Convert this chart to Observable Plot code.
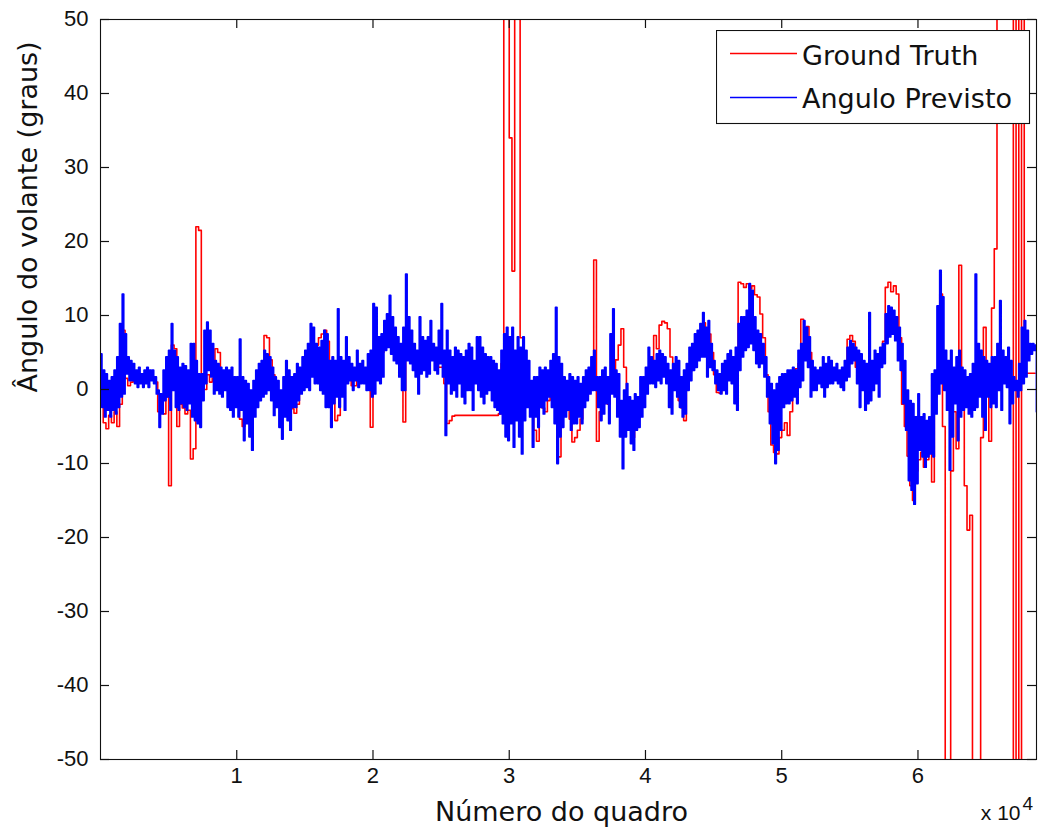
<!DOCTYPE html>
<html>
<head>
<meta charset="utf-8">
<script src="https://cdn.jsdelivr.net/npm/d3@7"></script>
<script src="https://cdn.jsdelivr.net/npm/@observablehq/plot@0.6"></script>
<style>
  html, body { margin: 0; padding: 0; background: #fff; }
  #chart { position: relative; width: 1040px; height: 834px; }
  #legend { position: absolute; left: 716px; top: 30px; }
</style>
</head>
<body>
<div id="chart"></div>
<script>
// Traces are stored as one value per block of frames.
const sampleStep = 200;

const xTicks = [10000, 20000, 30000, 40000, 50000, 60000];
const xTickLabels = ["1", "2", "3", "4", "5", "6"];
const yTicks = [-50, -40, -30, -20, -10, 0, 10, 20, 30, 40, 50];
const xDomain = [0, 68700];
const yDomain = [-50, 50];

const seriesNames = ["Ground Truth", "Angulo Previsto"];
const seriesColors = ["#ff0000", "#0000ff"];

// Ground-truth steering angle (degrees), one value per block
const groundTruth = [
  -1, -4.5, -5.3, -3.5, -4.5, -3, -5, -2, 8, 1.5,
  0.5, 1, 1.5, 1.5, 2, 1.5, 1.5, 2, 2, 1.5,
  1, -3, -2.5, -3.3, -1, -13, 6, 5.5, -5, -2,
  -2.5, -3.3, -2.8, -9.4, -8, 22, 21.5, 1, 0, 2,
  1, 1.5, 5.5, 5, 2, 1, 2, 0, -1, -2,
  -1, -4, -5, -3, -4.5, -2, -1, 0, 1, 2.5,
  7.3, 7, 4, 2, 0, -2, -3, -1, 0, -2,
  -2.6, -3.2, -2, 0, 1.5, 2, 3, 4, 5, 6,
  7, 7.5, 8, 6.5, 3, 1, -4.2, -3.5, 0, 1,
  2, 1.5, 0.5, 0.5, 1.5, 2, 2, 1.5, 0, -5.1,
  2, 6.8, 1.5, 5, 7, 7.3, 6, 5.5, 5, 6,
  4, -4.4, 5, 5, 4.5, 5, 4, 3, 4, 3.5,
  3, 4.5, 5, 4.5, 3, 3, 0.8, -4.6, -4.2, -3.6,
  -3.5, -3.5, -3.5, -3.5, -3.5, -3.5, -3.5, -3.5, -3.5, -3.5,
  -3.5, -3.5, -3.5, -3.5, -3.5, -3.5, -3.3, 3.5, 58, 60,
  34, 16, 60, 60, 7, 2, 2.6, 0, -1, -5.5,
  -7, -2, -2.5, -3, -1.5, 0, -2, -3, -9.1, -2,
  -3, -2, -4, -7.1, -6.5, -5.5, -4, -1.5, -1, 0,
  1.5, 17.5, -7, -3, -2, -1, -2, 1, 2, 4,
  6, 8.2, 3, -2, -5, -6.5, -5.5, -3.5, -2, 0,
  1, 3, 4, 7.3, 5.5, 8.7, 9.2, 9, 8.2, 4.4,
  2, 0, -1.5, -2.5, -4.2, 0, 2.5, 4, 5, 6.5,
  8, 9, 6, 7.5, 5, 2, -0.4, -0.5, 0.5, 1,
  2, 3, 1, 0, 14.5, 14.3, 13.8, 14.3, 13.6, 14,
  12.8, 12.5, 10.2, 7, 2, -3, -7.5, -8.5, -8.7, -6.5,
  -5.5, -4.5, -6.2, -3, 0, 2.8, 3.5, 9.5, 6, 8.5,
  5, 2, 1.5, 1, 1.5, 1, 2, 2, 2, 2,
  2, 1.5, 1.5, 2.5, 6.8, 7.3, 6.5, 3, 1, 1,
  1.5, 0, 1, 2, 3, 4.5, 5.3, 6.5, 13.8, 14.5,
  13.2, 14, 12.9, 7, -2, -5, -9, -13, -15, -11,
  -9.5, -8.5, -10.5, -9.5, -8.5, -12.5, -1, 2, 12.9, -5,
  -62, -62, -11, -3, -8, 16.8, -2, -13, -19, -17,
  -62, -62, -62, -6.5, 8.4, 0, -7, 11, 19, 62,
  62, 62, 62, 62, 62, -62, 62, -62, 62, 2.2,
  2.2, 2.2, 2.2, 2.2
];

// Predicted angle: upper and lower excursion within each block
const predictedHigh = [
  4.8, 2.6, 2.1, 1.2, 1.7, 2.6, 4.4, 8.9, 12.9, 7.5,
  4.4, 3.9, 3.5, 2.6, 3.0, 2.1, 2.6, 3.0, 2.6, 2.6,
  1.7, -0.1, -0.6, 2.6, 4.4, 5.3, 8.9, 5.3, 4.4, 3.0,
  3.5, 3.2, 2.6, 6.2, 6.2, 3.9, 2.1, 2.1, 8.0, 9.1,
  8.0, 6.2, 3.9, 3.5, 3.0, 2.6, 3.0, 2.6, 3.0, 1.7,
  1.7, 6.8, 1.7, 1.2, 0.8, -0.1, 1.2, 2.6, 3.5, 3.9,
  5.3, 4.8, 4.4, 3.0, 1.7, 1.2, -0.1, 1.7, 3.9, 2.6,
  1.7, 2.1, 3.5, 3.0, 4.4, 5.3, 6.2, 8.9, 8.4, 6.2,
  5.7, 6.6, 8.0, 7.5, 3.9, 4.4, 3.9, 10.9, 4.4, 3.9,
  7.1, 4.4, 3.5, 3.0, 5.3, 3.5, 3.9, 3.0, 4.8, 5.3,
  11.6, 11.1, 7.1, 7.5, 9.3, 10.2, 12.7, 9.8, 8.4, 7.1,
  6.2, 8.4, 15.6, 9.8, 8.0, 6.2, 5.3, 9.8, 7.1, 6.6,
  7.1, 9.3, 6.2, 5.7, 8.0, 11.6, 5.3, 8.0, 5.3, 4.4,
  5.7, 5.3, 4.8, 4.4, 5.3, 6.2, 5.7, 3.9, 7.1, 7.1,
  5.7, 4.8, 4.4, 4.4, 3.9, 3.5, 2.6, 5.3, 7.5, 8.4,
  7.1, 8.4, 5.3, 7.1, 5.7, 7.1, 5.3, 3.9, 1.2, 1.7,
  1.7, 3.0, 2.6, 3.0, 2.6, 3.9, 4.8, 11.1, 4.4, 3.5,
  1.7, 1.2, 2.1, 1.7, 1.2, 1.7, 0.8, 1.7, 2.6, 3.0,
  4.4, 5.3, 1.7, 1.7, 2.6, 3.0, 1.7, 7.5, 10.9, 2.6,
  2.1, -1.5, -0.1, 0.8, -1.0, -1.5, -0.6, -1.0, 1.7, 1.7,
  3.0, 5.7, 4.4, 3.9, 4.8, 5.3, 4.8, 4.4, 3.5, 2.6,
  3.5, 4.4, 3.9, 1.7, 2.6, 3.5, 5.7, 6.2, 7.5, 8.0,
  8.9, 10.4, 8.4, 9.3, 6.2, 3.9, 2.6, 2.1, 3.5, 3.9,
  4.8, 5.3, 4.4, 5.7, 8.9, 9.8, 9.8, 10.7, 14.3, 13.4,
  9.8, 8.0, 7.5, 6.2, 4.4, 1.7, 0.8, -0.1, 0.8, 1.7,
  2.1, 2.1, 2.6, 2.6, 3.0, 2.6, 5.3, 6.2, 9.3, 8.4,
  7.1, 3.9, 3.0, 2.6, 3.0, 4.4, 3.5, 4.4, 3.9, 3.0,
  3.5, 2.6, 3.0, 3.9, 5.7, 6.6, 6.2, 5.7, 5.3, 4.8,
  3.9, 3.5, 10.4, 3.9, 5.3, 4.8, 5.7, 6.2, 10.2, 11.3,
  11.1, 10.7, 9.8, 8.4, 6.2, 3.9, -0.1, -1.5, -1.9, -3.7,
  -0.6, -3.7, -3.3, -4.2, -3.7, 2.1, 2.6, 11.3, 16.1, 12.5,
  5.3, 3.9, 5.3, 3.0, 4.4, 5.3, 3.0, 2.6, 1.7, 2.1,
  3.5, 15.6, 6.2, 5.3, 4.4, 3.9, 3.5, 4.4, 4.4, 6.2,
  12.0, 5.3, 4.4, 5.7, 3.9, 1.7, 1.2, 3.5, 8.4, 9.3,
  8.0, 6.2, 6.2, 6.0
];

const predictedLow = [
  -2.4, -3.7, -2.8, -3.7, -2.8, -3.3, -2.4, -1.0, -0.6, 2.1,
  1.2, 1.2, 0.8, 0.3, 0.8, 0.3, 0.8, 0.3, 1.2, 0.8,
  -0.6, -5.1, -3.3, -1.5, -1.0, -2.8, -0.1, -2.4, -2.8, -1.9,
  -2.4, -2.8, -1.9, -3.7, -4.2, -4.6, -5.1, -1.5, 0.8, 2.6,
  1.7, -0.6, -0.1, -0.6, -1.0, -0.1, -2.4, -2.8, -3.7, -2.4,
  -3.7, -2.8, -6.9, -4.6, -6.4, -8.2, -3.7, -2.4, -1.5, -1.0,
  -0.6, -0.1, -1.5, -3.5, -2.4, -5.1, -6.7, -3.7, -4.2, -5.5,
  -2.4, -2.4, -1.5, -0.6, -0.1, 0.3, -0.1, 1.7, 0.8, 0.8,
  -0.1, -0.6, -2.4, -2.4, -5.1, -1.9, -1.0, -2.4, -1.0, -2.8,
  0.8, 1.2, -0.1, 1.2, 0.3, 0.8, 0.8, -0.1, -0.1, -1.0,
  -0.6, 1.2, 0.8, 1.7, 5.3, 5.7, 4.8, 3.9, 3.5, 1.7,
  -0.1, -0.1, 3.9, 3.5, 2.6, 1.7, -0.6, 2.1, 2.6, 1.7,
  2.1, 3.9, 2.6, 2.1, 3.5, 1.7, -6.2, 0.8, -0.6, -0.1,
  -1.0, 0.8, -1.0, -1.9, -0.1, -0.1, -2.8, 0.8, -0.1, -1.0,
  -1.9, -0.6, -0.1, -1.5, -2.4, -2.8, -3.3, -4.6, -6.4, -6.9,
  -4.6, -7.8, -4.2, -6.4, -8.7, -4.2, -2.4, -3.7, -7.8, -3.7,
  -5.1, -2.4, -3.3, -1.5, -1.0, -2.4, -4.6, -10.0, -6.4, -5.1,
  -3.7, -2.8, -5.5, -4.6, -4.6, -3.7, -4.6, -2.4, -1.5, -0.6,
  -0.1, -0.1, -2.4, -4.2, -3.3, -1.9, -4.6, -0.6, -1.0, -3.7,
  -6.4, -10.7, -6.4, -5.5, -7.3, -8.2, -5.5, -5.1, -3.7, -2.4,
  -0.6, 0.8, 0.8, 0.3, 1.2, 0.8, 1.7, 0.8, -2.4, -3.3,
  -0.1, -1.0, -2.4, -3.7, -3.3, -0.1, 1.2, 2.6, 3.0, 3.9,
  4.4, 4.4, 1.7, 3.0, 2.6, 0.8, -0.1, -0.6, -0.1, -0.6,
  1.2, 0.8, -1.9, -2.8, 2.6, 4.4, 5.3, 5.7, 6.2, 5.3,
  3.5, 3.0, 3.5, 1.7, -1.0, -4.6, -7.3, -10.0, -8.2, -5.5,
  -2.4, -1.9, -1.9, -1.5, -1.0, -1.9, 0.3, 1.2, 3.9, 3.0,
  -1.0, -0.1, -0.1, 0.8, 0.3, -1.0, 0.3, 0.8, 0.8, 1.2,
  0.8, 0.3, -0.1, 1.2, 1.7, 3.5, 3.9, 0.8, -2.4, -0.1,
  -2.8, -1.9, -1.5, -0.1, 0.8, -1.0, 3.0, 3.5, 6.2, 7.1,
  7.5, 6.6, 3.9, 2.6, -1.9, -5.5, -12.3, -13.6, -15.5, -12.7,
  -8.2, -9.1, -10.5, -9.1, -8.7, -9.1, -3.3, -0.6, 0.8, -0.1,
  -2.8, -10.9, -6.4, -1.9, -6.9, -3.7, -2.8, -2.4, -3.3, -3.7,
  -2.8, -2.4, -1.0, -3.7, -5.5, -1.0, -2.4, -1.9, -2.4, -0.1,
  -2.8, 0.8, 0.3, -4.6, -1.9, -0.1, -1.0, -0.1, 0.8, 1.7,
  3.9, 4.8, 5.3, -3.0
];

const xTitle = "Número do quadro";
const yTitle = "Ângulo do volante (graus)";
const xMultiplier = "x 10";
const xExponent = "4";

// Tables for the line marks
const truthRows = groundTruth.map((angle, i) => ({frame: i * sampleStep, angle}));
const predictedRows = predictedHigh.flatMap((hi, i) => [
  {frame: i * sampleStep, angle: hi},
  {frame: i * sampleStep + sampleStep / 2, angle: predictedLow[i]}
]);

const tickFont = "Liberation Sans, Arial, sans-serif";
const titleFont = "DejaVu Sans, Verdana, sans-serif";
const ink = "#111";

// Axes box geometry (pixels)
const W = 1040, H = 834;
const margin = {left: 100, right: 4, top: 19, bottom: 75};
const frameW = W - margin.left - margin.right;
const frameH = H - margin.top - margin.bottom;
const tickLen = 9;

const chart = Plot.plot({
  width: W,
  height: H,
  marginLeft: margin.left,
  marginRight: margin.right,
  marginTop: margin.top,
  marginBottom: margin.bottom,
  style: {background: "#fff", color: ink, fontFamily: tickFont},
  x: {domain: xDomain},
  y: {domain: yDomain},
  marks: [
    Plot.line(truthRows, {x: "frame", y: "angle", stroke: seriesColors[0], strokeWidth: 1.6, curve: "step-after", clip: true}),
    Plot.line(predictedRows, {x: "frame", y: "angle", stroke: seriesColors[1], strokeWidth: 1.8, curve: "step-after", clip: true}),
    Plot.frame({stroke: ink, strokeWidth: 1.1}),
    // inward tick marks on all four sides
    Plot.tickX(xTicks, {x: d => d, insetTop: frameH - tickLen, stroke: ink, strokeWidth: 1.2}),
    Plot.tickX(xTicks, {x: d => d, insetBottom: frameH - tickLen, stroke: ink, strokeWidth: 1.2}),
    Plot.tickY(yTicks, {y: d => d, insetRight: frameW - tickLen, stroke: ink, strokeWidth: 1.2}),
    Plot.tickY(yTicks, {y: d => d, insetLeft: frameW - tickLen, stroke: ink, strokeWidth: 1.2}),
    // tick labels
    Plot.axisX(xTicks, {anchor: "bottom", tickSize: 0, tickPadding: 8, tickFormat: d => xTickLabels[xTicks.indexOf(d)], label: null, fontSize: 22, fontFamily: tickFont, fill: ink}),
    Plot.axisY(yTicks, {anchor: "left", tickSize: 0, tickPadding: 12, tickFormat: d => String(d), label: null, fontSize: 22, fontFamily: tickFont, fill: ink, dy: -1}),
    // scale multiplier
    Plot.text([xMultiplier], {text: d => d, frameAnchor: "bottom-right", textAnchor: "end", lineAnchor: "middle", dx: -16, dy: 54, fontSize: 21, fontFamily: tickFont, fill: ink}),
    Plot.text([xExponent], {text: d => d, frameAnchor: "bottom-right", textAnchor: "start", lineAnchor: "middle", dx: -14, dy: 44, fontSize: 19, fontFamily: tickFont, fill: ink}),
    // axis titles
    Plot.text([xTitle], {text: d => d, frameAnchor: "bottom", lineAnchor: "middle", dx: -7, dy: 53, fontSize: 27, fontFamily: titleFont, fill: ink}),
    Plot.text([yTitle], {text: d => d, frameAnchor: "left", rotate: -90, lineAnchor: "middle", dx: -72, dy: 3, fontSize: 27, fontFamily: titleFont, fill: ink})
  ]
});

const container = document.getElementById("chart");
container.appendChild(chart);

// Legend box in the upper-right corner of the axes
const legend = d3.create("svg")
  .attr("id", "legend")
  .attr("width", 315)
  .attr("height", 95);
legend.append("rect")
  .attr("x", 0.5).attr("y", 0.5)
  .attr("width", 313).attr("height", 93)
  .attr("fill", "#fff").attr("stroke", ink).attr("stroke-width", 1.1);
const rowY = [23.5, 67.5];
const baseY = [35, 78];
seriesNames.forEach((name, i) => {
  legend.append("line")
    .attr("x1", 14).attr("x2", 81)
    .attr("y1", rowY[i]).attr("y2", rowY[i])
    .attr("stroke", seriesColors[i]).attr("stroke-width", 1.6);
  legend.append("text")
    .attr("x", 86).attr("y", baseY[i])
    .attr("font-family", titleFont).attr("font-size", 27)
    .attr("fill", ink)
    .text(name);
});
container.appendChild(legend.node());
</script>
</body>
</html>
